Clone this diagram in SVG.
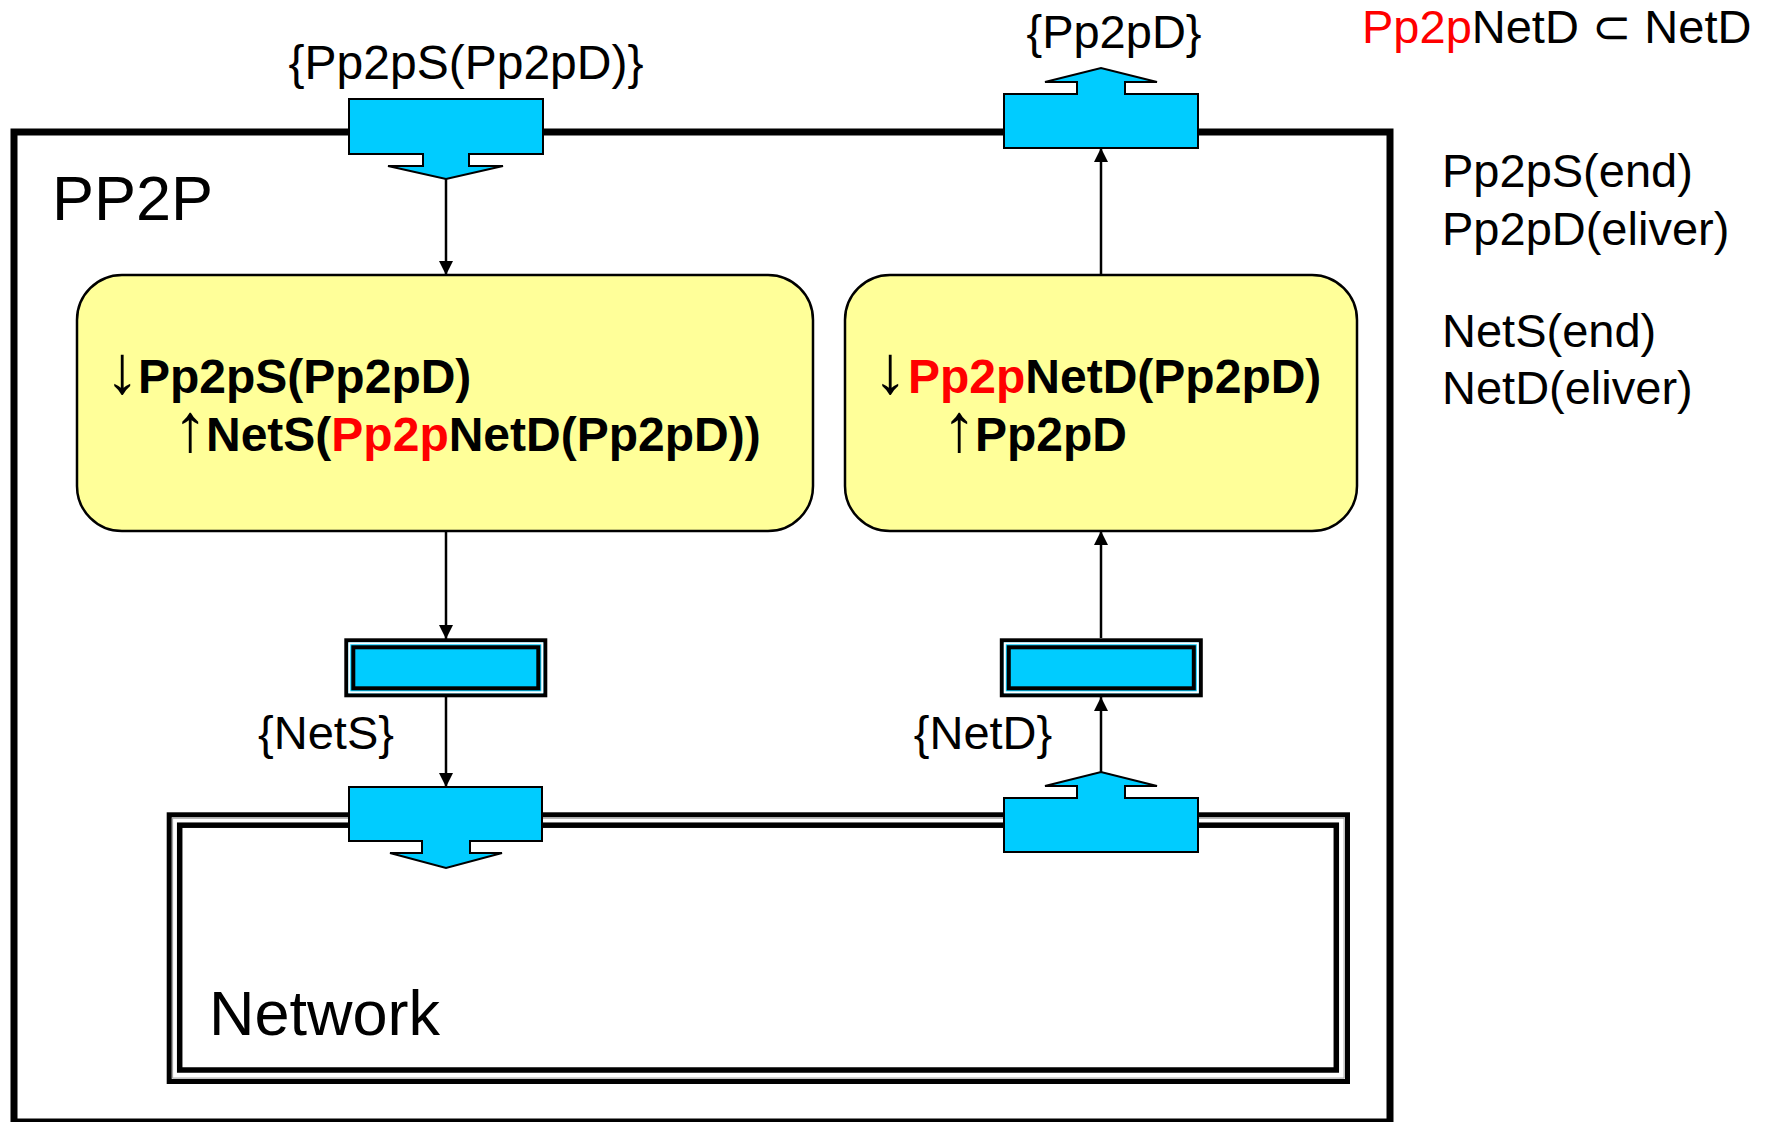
<svg xmlns="http://www.w3.org/2000/svg" width="1766" height="1122" viewBox="0 0 1766 1122">
  <style>
    text { font-family: "Liberation Sans", Arial, "DejaVu Sans", sans-serif; fill: #000; }
    .lbl { font-size: 47px; }
    .big { font-size: 63px; }
    .bold { font-size: 48px; font-weight: bold; }
    .arr { font-size: 68px; font-weight: normal; }
    .red { fill: #FF0000; }
    .port { fill: #00CCFF; stroke: #000; stroke-width: 2; stroke-linejoin: miter; }
    .proc { fill: #FFFF99; stroke: #000; stroke-width: 2.5; }
    .conn { stroke: #000; stroke-width: 2.5; fill: none; marker-end: url(#head); }
  </style>
  <defs>
    <marker id="head" viewBox="0 0 10 10" refX="10" refY="5" markerUnits="userSpaceOnUse" markerWidth="14" markerHeight="14" orient="auto">
      <path d="M0,0 L10,5 L0,10 z" fill="#000"/>
    </marker>
    <!-- buffer box with double border -->
    <g id="buffer">
      <rect x="2" y="2" width="199" height="55" fill="#00CCFF" stroke="#000" stroke-width="4"/>
      <rect x="5" y="5" width="193" height="49" fill="none" stroke="#fff" stroke-width="2"/>
      <rect x="9" y="9" width="185" height="41" fill="#00CCFF" stroke="#000" stroke-width="4"/>
    </g>
  </defs>

  <rect width="1766" height="1122" fill="#fff"/>

  <!-- PP2P component frame -->
  <g id="pp2p">
    <rect x="14" y="132" width="1376" height="990" fill="none" stroke="#000" stroke-width="7"/>
    <text class="big" x="52" y="220">PP2P</text>
  </g>

  <!-- legend on the right -->
  <g id="legend">
    <text class="lbl" x="1362" y="43"><tspan class="red">Pp2p</tspan>NetD ⊂ NetD</text>
    <text class="lbl" x="1442" y="187">Pp2pS(end)</text>
    <text class="lbl" x="1442" y="245">Pp2pD(eliver)</text>
    <text class="lbl" x="1442" y="347">NetS(end)</text>
    <text class="lbl" x="1442" y="404">NetD(eliver)</text>
  </g>

  <!-- Network component -->
  <g id="network">
    <rect x="169.2" y="814.8" width="1178.3" height="266.7" fill="#fff" stroke="#000" stroke-width="5"/>
    <rect x="172.6" y="818.2" width="1171.5" height="259.9" fill="none" stroke="#999" stroke-width="1"/>
    <rect x="179.7" y="825.2" width="1156.6" height="244.8" fill="none" stroke="#000" stroke-width="5.5"/>
    <text class="big" x="209" y="1035">Network</text>
  </g>

  <!-- sending process -->
  <g id="proc-send">
    <rect class="proc" x="77" y="275" width="736" height="256" rx="45" ry="45"/>
    <text class="bold" y="393"><tspan class="arr" x="105">↓</tspan><tspan x="138">Pp2pS(Pp2pD)</tspan></text>
    <text class="bold" y="451"><tspan class="arr" x="173">↑</tspan><tspan x="206">NetS(</tspan><tspan class="red">Pp2p</tspan>NetD(Pp2pD))</text>
  </g>

  <!-- delivering process -->
  <g id="proc-deliver">
    <rect class="proc" x="845" y="275" width="512" height="256" rx="45" ry="45"/>
    <text class="bold" y="393"><tspan class="arr" x="873">↓</tspan><tspan x="908" class="red">Pp2p</tspan>NetD(Pp2pD)</text>
    <text class="bold" y="451"><tspan class="arr" x="942">↑</tspan><tspan x="975">Pp2pD</tspan></text>
  </g>

  <!-- buffers -->
  <g id="buffer-send">
    <use href="#buffer" x="344.3" y="638.3"/>
  </g>
  <g id="buffer-deliver">
    <use href="#buffer" x="999.8" y="638.3"/>
  </g>

  <!-- ports -->
  <g id="port-pp2p-in">
    <path class="port" d="M349,99 H543 V154 H469 V166 H503 L446,179 L388,166 H423 V154 H349 Z"/>
    <text class="lbl" x="466" y="79" text-anchor="middle" style="font-size:48px">{Pp2pS(Pp2pD)}</text>
  </g>
  <g id="port-pp2p-out">
    <path class="port" d="M1004,148 H1198 V94 H1125 V82 H1157 L1101,68 L1045,82 H1077 V94 H1004 Z"/>
    <text class="lbl" x="1114" y="48" text-anchor="middle">{Pp2pD}</text>
  </g>
  <g id="port-net-in">
    <path class="port" d="M349,787 H542 V841 H470 V853 H502 L446,868 L390,853 H422 V841 H349 Z"/>
    <text class="lbl" x="326" y="749" text-anchor="middle">{NetS}</text>
  </g>
  <g id="port-net-out">
    <path class="port" d="M1004,852 H1198 V798 H1125 V786 H1157 L1101,772 L1045,786 H1077 V798 H1004 Z"/>
    <text class="lbl" x="983" y="749" text-anchor="middle">{NetD}</text>
  </g>

  <!-- connectors -->
  <g id="connectors">
    <line class="conn" x1="446" y1="179" x2="446" y2="275"/>
    <line class="conn" x1="446" y1="531" x2="446" y2="639"/>
    <line class="conn" x1="446" y1="697" x2="446" y2="787"/>
    <line class="conn" x1="1101" y1="772" x2="1101" y2="697"/>
    <line class="conn" x1="1101" y1="638" x2="1101" y2="531"/>
    <line class="conn" x1="1101" y1="275" x2="1101" y2="148"/>
  </g>
</svg>
